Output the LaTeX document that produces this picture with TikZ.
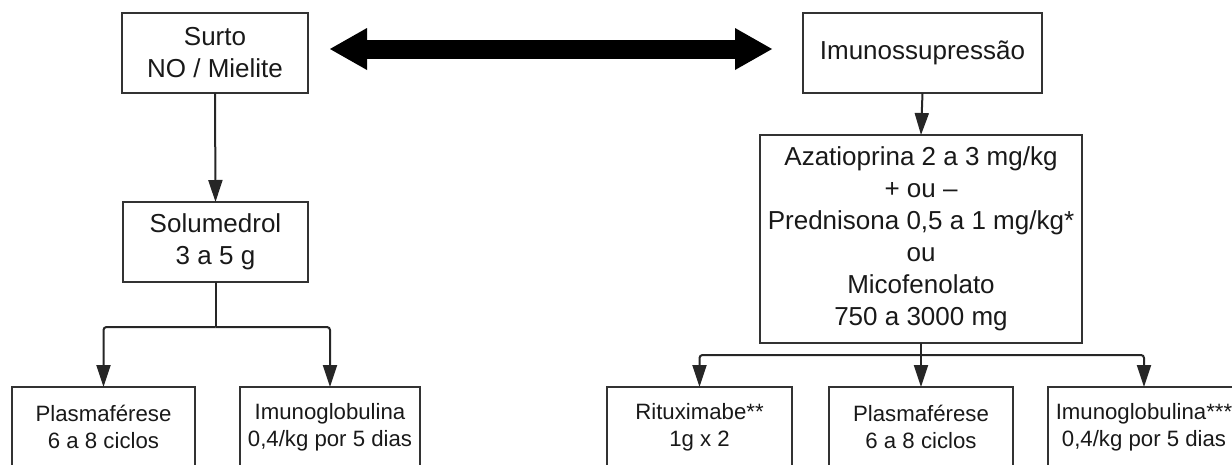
\documentclass[tikz,border=0pt]{standalone}
\usepackage{fontspec}
\setmainfont{Liberation Sans}
\usetikzlibrary{arrows.meta}
\begin{document}
\begin{tikzpicture}[x=1pt,y=-1pt,
  box/.style={draw=black!80, line width=2pt, align=center, anchor=north west,
    inner sep=0pt, outer sep=0pt, text=black!90, font=\fontsize{26}{32}\selectfont},
  smallbox/.style={box, font=\fontsize{22.2}{27}\selectfont, minimum height=80pt},
  arr/.style={draw=black!85, line width=2pt, rounded corners=3pt,
    -{Triangle[length=22pt,width=14pt]}},
  link/.style={draw=black!85, line width=2pt},
  bigarr/.style={draw=black, line width=19pt,
    {Triangle[length=37pt,width=42pt,line width=0pt]}-{Triangle[length=37pt,width=42pt,line width=0pt]}}
]
\useasboundingbox (0,0) rectangle (1232,464);

\node[box, minimum width=186pt, minimum height=80pt] (surto) at (122,13) {Surto\\NO / Mielite};
\node[box, minimum width=239pt, minimum height=80pt] (imuno) at (803,13) {Imunossupressão};
\node[box, minimum width=185pt, minimum height=80pt] (solu) at (123,202) {Solumedrol\\3 a 5 g};
\node[box, minimum width=322pt, minimum height=208pt] (aza) at (760,135)
  {Azatioprina 2 a 3 mg/kg\\+ ou –\\Prednisona 0,5 a 1 mg/kg*\\ou\\Micofenolato\\750 a 3000 mg};

\node[smallbox, minimum width=183pt] (plL) at (12,387) {Plasmaférese\\6 a 8 ciclos};
\node[smallbox, minimum width=180pt] (igL) at (240,387) {Imunoglobulina\\0,4/kg por 5 dias};
\node[smallbox, minimum width=185pt] (rit) at (607,387) {Rituximabe**\\1g x 2};
\node[smallbox, minimum width=184pt] (plR) at (829,387) {Plasmaférese\\6 a 8 ciclos};
\node[smallbox, minimum width=192pt] (igR) at (1048,387) {Imunoglobulina***\\0,4/kg por 5 dias};

\draw[bigarr, shorten <=22pt, shorten >=31pt] ([yshift=4pt]surto.east) -- ([yshift=4pt]imuno.west);

\draw[arr] (surto.south) -- (solu.north);
\draw[arr] (imuno.south) -- (aza.north);

\draw[link] (solu.south) -- ++(0,45) coordinate (jl);
\draw[arr] (jl) -| (plL.north);
\draw[arr] (jl) -| (igL.north);

\draw[link] (aza.south) -- ++(0,12) coordinate (jr);
\draw[arr] (jr) -| (rit.north);
\draw[arr] (aza.south) -- (plR.north);
\draw[arr] (jr) -| (igR.north);
\end{tikzpicture}
\end{document}
